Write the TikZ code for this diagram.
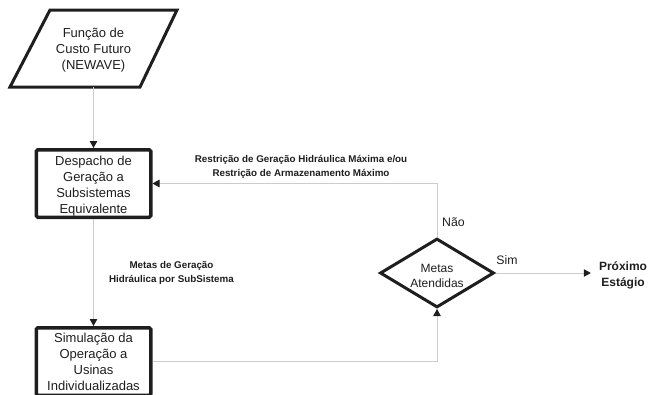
\documentclass[tikz,border=0pt]{standalone}
\usepackage{fontspec}
\setmainfont{Liberation Sans}
\usetikzlibrary{arrows.meta,shapes.geometric}
\definecolor{ink}{HTML}{1E1E1E}
\definecolor{conn}{HTML}{CCCCCC}
\tikzset{
  box/.style={draw=ink, line width=3.5pt, rounded corners=1.5pt, minimum width=114.5pt, minimum height=67.5pt, inner sep=0pt, align=center, font=\fontsize{13}{16}\selectfont, text=ink},
  boxtxt/.style={inner sep=0pt, align=center, font=\fontsize{13}{16}\selectfont, text=ink},
  dec/.style={diamond, draw=ink, line width=3pt, aspect=1.6, inner sep=0pt, minimum width=114pt, minimum height=69pt},
  dectxt/.style={inner sep=0pt, align=center, font=\fontsize{12}{15}\selectfont, text=ink},
  conarrow/.style={draw=conn, line width=0.8pt, -{Triangle[length=7pt,width=7.5pt,color=ink]}},
  lbl/.style={align=center, font=\bfseries\fontsize{9.8}{14}\selectfont, text=ink, inner sep=0pt},
  yn/.style={font=\fontsize{12.3}{15}\selectfont, text=ink, inner sep=0pt},
}
\begin{document}
\begin{tikzpicture}[x=1pt,y=-1pt]
\useasboundingbox (0,0) rectangle (652,394);
\clip (0,0) rectangle (652,394);
% parallelogram
\coordinate (p1) at (50,10);
\coordinate (p2) at (177,10);
\coordinate (p3) at (140,87);
\coordinate (p4) at (10,87);
\coordinate (pb) at (93.5,87);
\draw[draw=ink, line width=3pt, line join=miter] (p1) -- (p2) -- (p3) -- (p4) -- cycle;
\node[boxtxt] (fcf) at (93.5,50) {Função de\\Custo Futuro\\(NEWAVE)};
% boxes
\node[box] (desp) at (93.5,183.5) {};
\node[boxtxt] (desptxt) at (93.5,186) {Despacho de\\Geração a\\Subsistemas\\Equivalente};
\node[box] (sim) at (93.5,361.5) {};
\node[boxtxt] (simtxt) at (93.5,362) {Simulação da\\Operação a\\Usinas\\Individualizadas};
\node[dec] (dia) at (437,273) {};
\node[dectxt] (diatxt) at (437,276) {Metas\\Atendidas};
\node[align=center, font=\bfseries\fontsize{12}{16}\selectfont, text=ink, inner sep=0pt] (next) at (623,275) {Próximo\\Estágio};
% connectors
\draw[conarrow] (pb) -- (desp.north);
\draw[conarrow] (desp.south) -- (sim.north);
\draw[conarrow] (sim.east) -| (dia.south);
\draw[conarrow] (dia.north) |- (desp.east);
\draw[conarrow] (dia.east) -- ([xshift=-8pt]dia.east -| next.west);
% labels
\node[lbl] (l1) at (301,166.5) {Restrição de Geração Hidráulica Máxima e/ou\\Restrição de Armazenamento Máximo};
\node[lbl] (l2) at (171.5,273) {Metas de Geração\\Hidráulica por SubSistema};
\node[yn] (nao) at (453.5,222) {Não};
\node[yn] (simlbl) at (507,260) {Sim};
\end{tikzpicture}
\end{document}
